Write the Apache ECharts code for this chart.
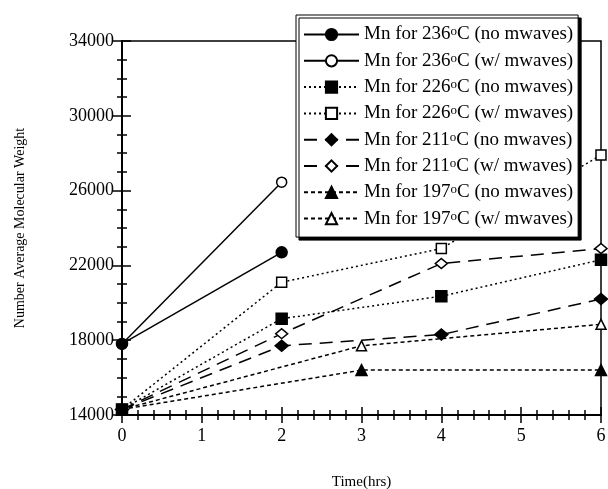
<!DOCTYPE html>
<html>
<head>
<meta charset="utf-8">
<script src="https://cdn.jsdelivr.net/npm/echarts@6/dist/echarts.min.js"></script>
<style>
  html, body { margin: 0; padding: 0; background: #fff; }
  #main { width: 608px; height: 489px; }
</style>
</head>
<body>
<div id="main"></div>
<script>
// Mn vs time
const times236 = [0, 2];
const mn236No = [17800, 22700];
const mn236W = [17800, 26450];

const times226 = [0, 2, 4, 6];
const mn226No = [14300, 19150, 20350, 22300];
const mn226W = [14300, 21100, 22900, 27900];

const times211 = [0, 2, 4, 6];
const mn211No = [14300, 17700, 18300, 20200];
const mn211W = [14300, 18350, 22100, 22900];

const times197 = [0, 3, 6];
const mn197No = [14300, 16400, 16400];
const mn197W = [14300, 17700, 18850];

const FONT = "'Liberation Serif', 'Times New Roman', serif";

const pair = (xs, ys) => xs.map((x, i) => [x, ys[i]]);

// filled or open marker
const mk = (name, xs, ys, symbol, open, dash, size) => ({
  name: name,
  type: "line",
  data: pair(xs, ys),
  symbol: symbol,
  symbolSize: size || 10,
  showSymbol: true,
  clip: false,
  z: open ? 2 : 3,
  lineStyle: { color: "#000", width: 1.5, type: dash },
  itemStyle: {
    color: open ? "#fff" : "#000",
    borderColor: "#000",
    borderWidth: 1.5,
  },
  emphasis: { disabled: true },
  animation: false,
});

const dotted = [2, 3];
const longDash = [13, 8];
const shortDash = [4, 3];

const series = [
  mk("Mn for 236°C (no mwaves)", times236, mn236No, "circle", false, "solid", 11),
  mk("Mn for 236°C (w/ mwaves)", times236, mn236W, "circle", true, "solid", 10),
  mk("Mn for 226°C (no mwaves)", times226, mn226No, "rect", false, dotted, 11),
  mk("Mn for 226°C (w/ mwaves)", times226, mn226W, "rect", true, dotted, 10),
  mk("Mn for 211°C (no mwaves)", times211, mn211No, "diamond", false, longDash, [13, 11]),
  mk("Mn for 211°C (w/ mwaves)", times211, mn211W, "diamond", true, longDash, [12, 10]),
  mk("Mn for 197°C (no mwaves)", times197, mn197No, "triangle", false, shortDash, 11),
  mk("Mn for 197°C (w/ mwaves)", times197, mn197W, "triangle", true, shortDash, 10),
];

const axisLineStyle = { show: true, lineStyle: { color: "#000", width: 2 } };

const chart = echarts.init(document.getElementById("main"));
chart.setOption({
  backgroundColor: "#fff",
  animation: false,
  textStyle: { fontFamily: FONT },
  grid: {
    left: 122, right: 7, top: 41, bottom: 74,
    outerBoundsMode: "none",
    containLabel: false,
    show: true, borderColor: "#000", borderWidth: 1.5,
  },
  legend: {
    orient: "vertical",
    left: 296,
    top: 15,
    padding: [10, 5, 9, 7],
    itemWidth: 55,
    itemHeight: 14,
    itemGap: 7.3,
    backgroundColor: "#fff",
    borderColor: "#000",
    borderWidth: 1,
    shadowColor: "#000",
    shadowBlur: 0,
    shadowOffsetX: 3,
    shadowOffsetY: 3,
    inactiveColor: "#000",
    selectedMode: false,
    formatter: (name) => "{t|" + name.replace("°", "}{s|o}{t|") + "}",
    textStyle: {
      fontFamily: FONT,
      color: "#000",
      rich: {
        t: { fontSize: 19, fontFamily: FONT, color: "#000", lineHeight: 18 },
        s: { fontSize: 13, fontFamily: FONT, color: "#000", lineHeight: 8, verticalAlign: "top", padding: [0, 0, 4, 0] },
      },
    },
  },
  xAxis: [
    {
      type: "value", min: 0, max: 6, interval: 1,
      name: "Time(hrs)", nameLocation: "middle", nameGap: 60,
      nameTextStyle: { fontFamily: FONT, fontSize: 15, color: "#000" },
      axisLine: axisLineStyle,
      axisTick: { show: true, length: 8, lineStyle: { color: "#000", width: 1.5 } },
      minorTick: { show: true, splitNumber: 5, length: 5, lineStyle: { color: "#000", width: 1.5 } },
      axisLabel: { fontFamily: FONT, fontSize: 18, color: "#000", margin: 12 },
      splitLine: { show: false },
    },
    {
      type: "value", min: 0, max: 6, interval: 1, position: "bottom", offset: 0,
      axisLine: axisLineStyle,
      axisTick: { show: true, inside: true, length: 8, lineStyle: { color: "#000", width: 1.5 } },
      minorTick: { show: true, splitNumber: 5, length: 5, lineStyle: { color: "#000", width: 1.5 } },
      axisLabel: { show: false },
      splitLine: { show: false },
    },
  ],
  yAxis: [
    {
      type: "value", min: 14000, max: 34000, interval: 4000,
      name: "Number Average Molecular Weight", nameLocation: "middle", nameGap: 95,
      nameTextStyle: { fontFamily: FONT, fontSize: 14, color: "#000" },
      axisLine: axisLineStyle,
      axisTick: { show: true, length: 9, lineStyle: { color: "#000", width: 1.5 } },
      minorTick: { show: true, splitNumber: 4, length: 5, lineStyle: { color: "#000", width: 1.5 } },
      axisLabel: { fontFamily: FONT, fontSize: 18, color: "#000", margin: 8, formatter: (v) => String(v) },
      splitLine: { show: false },
    },
    {
      type: "value", min: 14000, max: 34000, interval: 4000, position: "left", offset: 0,
      axisLine: axisLineStyle,
      axisTick: { show: true, inside: true, length: 9, lineStyle: { color: "#000", width: 1.5 } },
      minorTick: { show: true, splitNumber: 4, length: 5, lineStyle: { color: "#000", width: 1.5 } },
      axisLabel: { show: false },
      splitLine: { show: false },
    },
  ],
  series: series,
});
</script>
</body>
</html>
